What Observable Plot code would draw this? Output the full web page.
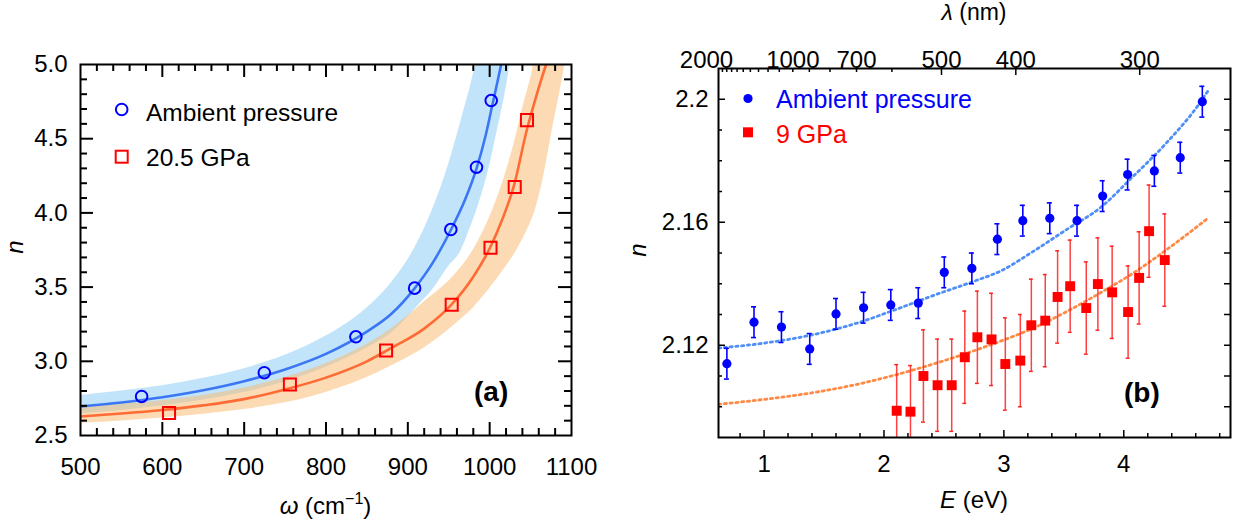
<!DOCTYPE html>
<html><head><meta charset="utf-8">
<script src="https://cdn.jsdelivr.net/npm/d3@7"></script>
<script src="https://cdn.jsdelivr.net/npm/@observablehq/plot@0.6"></script>
<style>
html,body{margin:0;padding:0;background:#fff;}
body{width:1235px;height:529px;overflow:hidden;position:relative;font-family:"Liberation Sans",Arial,Helvetica,sans-serif;}
#pa{position:absolute;left:0;top:0;}
#pb{position:absolute;left:615px;top:0;}
</style></head>
<body><div id="pa"></div><div id="pb"></div>
<script>
const FONT = "'Liberation Sans', Arial, Helvetica, sans-serif";
const HC = 1239.84; // eV·nm, for the wavelength axis

// ================= Panel (a) data =================
// measured points
const ambW = [574.7, 724.6, 836.5, 908.3, 952.5, 983.9, 1001.9];
const ambN = [2.763, 2.923, 3.165, 3.493, 3.888, 4.308, 4.757];
const hpW  = [608.2, 755.9, 873.4, 953.6, 1001.0, 1030.6, 1045.6];
const hpN  = [2.651, 2.844, 3.073, 3.381, 3.765, 4.174, 4.625];
// fitted curves
const ambFitW = [500, 550, 600, 650, 700, 750, 800, 850, 880, 908, 930, 953, 970, 984, 995, 1003, 1009, 1014];
const ambFitN = [2.695, 2.722, 2.758, 2.805, 2.866, 2.945, 3.05, 3.2, 3.32, 3.49, 3.66, 3.89, 4.09, 4.30, 4.52, 4.72, 4.87, 5.0];
const hpFitW = [500, 550, 600, 650, 700, 750, 800, 850, 880, 920, 953, 980, 1000, 1015, 1030, 1045, 1055, 1062, 1069];
const hpFitN = [2.628, 2.648, 2.672, 2.703, 2.745, 2.81, 2.89, 3.0, 3.09, 3.22, 3.38, 3.57, 3.76, 3.95, 4.19, 4.55, 4.75, 4.88, 5.0];
// uncertainty bands
const ambBandW  = [500, 550, 600, 650, 700, 750, 800, 850, 880, 910, 930, 950, 965, 975, 985, 1000, 1010, 1018, 1025];
const ambBandLo = [2.646, 2.668, 2.70, 2.74, 2.79, 2.86, 2.96, 3.09, 3.19, 3.36, 3.48, 3.64, 3.745, 3.88, 4.03, 4.32, 4.57, 4.78, 5.0];
const ambBandHi = [2.77, 2.80, 2.835, 2.885, 2.95, 3.04, 3.17, 3.36, 3.53, 3.78, 4.02, 4.33, 4.62, 4.82, 5.0, 5.0, 5.0, 5.0, 5.0];
const hpBandW  = [500, 550, 600, 650, 700, 750, 800, 850, 880, 920, 960, 980, 1000, 1015, 1030, 1042, 1052, 1054, 1065, 1078, 1086, 1092];
const hpBandLo = [2.583, 2.598, 2.618, 2.643, 2.675, 2.72, 2.79, 2.89, 2.97, 3.09, 3.26, 3.36, 3.49, 3.60, 3.72, 3.84, 3.96, 3.99, 4.22, 4.60, 4.82, 5.0];
const hpBandHi = [2.687, 2.71, 2.735, 2.77, 2.82, 2.89, 2.985, 3.115, 3.22, 3.40, 3.60, 3.75, 3.97, 4.19, 4.47, 4.74, 4.95, 5.0, 5.0, 5.0, 5.0, 5.0];
// axis ticks
const aXTicks = [500, 600, 700, 800, 900, 1000, 1100];
const aYTicks = [2.5, 3.0, 3.5, 4.0, 4.5, 5.0];

// ================= Panel (b) data =================
const ambE  = [0.69, 0.916, 1.145, 1.381, 1.600, 1.830, 2.057, 2.286, 2.503, 2.733, 2.946, 3.158, 3.383, 3.610, 3.824, 4.032, 4.255, 4.471, 4.655];
const ambNb = [2.1140, 2.1275, 2.1259, 2.1188, 2.1302, 2.1322, 2.1331, 2.1337, 2.1437, 2.1450, 2.1545, 2.1605, 2.1613, 2.1605, 2.1685, 2.1755, 2.1767, 2.1810, 2.1992];
const ambErr = [0.005, 0.005, 0.005, 0.005, 0.005, 0.005, 0.005, 0.005, 0.005, 0.005, 0.005, 0.005, 0.005, 0.005, 0.005, 0.005, 0.005, 0.005, 0.005];
const hpE  = [2.106, 2.221, 2.329, 2.447, 2.565, 2.674, 2.779, 2.897, 3.012, 3.137, 3.229, 3.345, 3.448, 3.553, 3.687, 3.784, 3.903, 4.036, 4.128, 4.211, 4.342];
const hpNb = [2.0987, 2.0984, 2.1100, 2.1070, 2.1070, 2.1161, 2.1226, 2.1219, 2.1139, 2.1150, 2.1265, 2.1280, 2.1357, 2.1392, 2.1321, 2.1399, 2.1372, 2.1308, 2.1419, 2.1571, 2.1477];
const hpErr = [0.015, 0.015, 0.015, 0.015, 0.015, 0.015, 0.015, 0.015, 0.015, 0.015, 0.015, 0.015, 0.015, 0.015, 0.015, 0.015, 0.015, 0.015, 0.015, 0.015, 0.015];
const fitE    = [0.62, 1.0, 1.472, 1.8, 2.09, 2.42, 2.75, 2.97, 3.248, 3.526, 3.803, 4.08, 4.358, 4.636, 4.705];
const ambFitNb = [2.1191, 2.1207, 2.1240, 2.1275, 2.1315, 2.1363, 2.1408, 2.1441, 2.1506, 2.1577, 2.1647, 2.1750, 2.1859, 2.1989, 2.2029];
const hpFitNb  = [2.1008, 2.1024, 2.1050, 2.1075, 2.1103, 2.1140, 2.1182, 2.1213, 2.1256, 2.1310, 2.1370, 2.1435, 2.1511, 2.1593, 2.1614];
const bXTicks = [1, 2, 3, 4];
const bYTicks = [2.12, 2.16, 2.2];
const lamLabels = [2000, 1000, 700, 500, 400, 300];
const lamMinor = [1900, 1800, 1700, 1600, 1500, 1400, 1300, 1200, 1100, 1000, 900, 800, 700, 600];
const lamMajor = [500, 400, 300];

// ================= tables =================
const ambPts = ambW.map((w, i) => ({w, n: ambN[i]}));
const hpPts = hpW.map((w, i) => ({w, n: hpN[i]}));
const ambFit = ambFitW.map((w, i) => ({w, n: ambFitN[i]}));
const hpFit = hpFitW.map((w, i) => ({w, n: hpFitN[i]}));
const ambBand = ambBandW.map((w, i) => ({w, lo: ambBandLo[i], hi: ambBandHi[i]}));
const hpBand = hpBandW.map((w, i) => ({w, lo: hpBandLo[i], hi: hpBandHi[i]}));
const ambB = ambE.map((e, i) => ({e, n: ambNb[i], err: ambErr[i]}));
const hpB = hpE.map((e, i) => ({e, n: hpNb[i], err: hpErr[i]}));
const ambFitB = fitE.map((e, i) => ({e, n: ambFitNb[i]}));
const hpFitB = fitE.map((e, i) => ({e, n: hpFitNb[i]}));

// ================= Panel (a) =================
const A = {w: 615, h: 529, ml: 80, mr: 44, mt: 64, mb: 94};
const AW = A.w - A.ml - A.mr, AH = A.h - A.mt - A.mb;
const aXMinor = d3.range(520, 1100, 20).filter(v => v % 100 !== 0);
const aYMinor = d3.range(26, 50).filter(v => v % 5 !== 0).map(v => v / 10);
const aXIn = aXTicks.slice(1, -1), aYIn = aYTicks.slice(1, -1);
const tk = {stroke: "black", strokeWidth: 2};

const plotA = Plot.plot({
  width: A.w, height: A.h,
  marginLeft: A.ml, marginRight: A.mr, marginTop: A.mt, marginBottom: A.mb,
  style: {fontFamily: FONT, fontSize: "24px", background: "none", color: "black", overflow: "visible"},
  x: {domain: [500, 1100], ticks: aXTicks, tickSize: 0, tickPadding: 22, label: null, tickFormat: d => String(d)},
  y: {domain: [2.5, 5.0], ticks: aYTicks, tickSize: 0, tickPadding: 13, label: null, tickFormat: d => d.toFixed(1)},
  marks: [
    Plot.areaY(ambBand, {x: "w", y1: "lo", y2: "hi", fill: "#8fcdf5", fillOpacity: 0.55, curve: "monotone-x", clip: true}),
    Plot.areaY(hpBand, {x: "w", y1: "lo", y2: "hi", fill: "#f9b86a", fillOpacity: 0.5, curve: "monotone-x", clip: true}),
    Plot.line(ambFit, {x: "w", y: "n", stroke: "#3b76f5", strokeWidth: 2.6, curve: "monotone-x", clip: true}),
    Plot.line(hpFit, {x: "w", y: "n", stroke: "#ff6b35", strokeWidth: 2.6, curve: "monotone-x", clip: true}),
    Plot.dot(ambPts, {x: "w", y: "n", r: 5.8, stroke: "#0000ff", strokeWidth: 2, fill: "none"}),
    Plot.dot(hpPts, {x: "w", y: "n", symbol: "square", r: 6.8, stroke: "#ff0000", strokeWidth: 2, fill: "none"}),
    // inward ticks on all four sides
    Plot.tickX(aXIn, {x: d => d, insetTop: AH - 13, ...tk}),
    Plot.tickX(aXIn, {x: d => d, insetBottom: AH - 13, ...tk}),
    Plot.tickX(aXMinor, {x: d => d, insetTop: AH - 7, ...tk}),
    Plot.tickX(aXMinor, {x: d => d, insetBottom: AH - 7, ...tk}),
    Plot.tickY(aYIn, {y: d => d, insetRight: AW - 13, ...tk}),
    Plot.tickY(aYIn, {y: d => d, insetLeft: AW - 13, ...tk}),
    Plot.tickY(aYMinor, {y: d => d, insetRight: AW - 7, ...tk}),
    Plot.tickY(aYMinor, {y: d => d, insetLeft: AW - 7, ...tk}),
    Plot.frame({stroke: "black", strokeWidth: 2})
  ]
});
document.getElementById("pa").appendChild(plotA);

// ================= Panel (b) =================
const B = {w: 620, h: 529, ml: 103, mr: 5, mt: 68, mb: 92};
const BW = B.w - B.ml - B.mr, BH = B.h - B.mt - B.mb;
const bXMinor = d3.range(4, 25).filter(v => v % 5 !== 0).map(v => v / 5);
const bYMinor = d3.range(210, 221).filter(v => ![212, 216, 220].includes(v)).map(v => v / 100);
const bYAll = d3.range(210, 221).map(v => v / 100);
const tb = {stroke: "black", strokeWidth: 1.5};

const plotB = Plot.plot({
  width: B.w, height: B.h,
  marginLeft: B.ml, marginRight: B.mr, marginTop: B.mt, marginBottom: B.mb,
  style: {fontFamily: FONT, fontSize: "24px", background: "none", color: "black", overflow: "visible"},
  x: {domain: [0.62, 4.89], ticks: bXTicks, tickSize: 0, tickPadding: 17, label: null, tickFormat: d => String(d)},
  y: {domain: [2.09, 2.21], ticks: bYTicks, tickSize: 0, tickPadding: 10, label: null, tickFormat: d => String(+d.toFixed(2))},
  marks: [
    Plot.line(ambFitB, {x: "e", y: "n", stroke: "#4f8ff7", strokeWidth: 2.8, strokeDasharray: "2.2,3.6", curve: "monotone-x", clip: true}),
    Plot.line(hpFitB, {x: "e", y: "n", stroke: "#ff8a45", strokeWidth: 2.8, strokeDasharray: "2.2,3.6", curve: "monotone-x", clip: true}),
    // 9 GPa error bars and points
    Plot.ruleX(hpB, {x: "e", y1: d => d.n - d.err, y2: d => d.n + d.err, stroke: "#ff2020", strokeOpacity: 0.85, strokeWidth: 1.5, clip: true}),
    Plot.ruleY(hpB, {y: d => d.n + d.err, x1: d => d.e - 0.016, x2: d => d.e + 0.016, stroke: "#ff2020", strokeWidth: 1.5, clip: true}),
    Plot.ruleY(hpB, {y: d => d.n - d.err, x1: d => d.e - 0.016, x2: d => d.e + 0.016, stroke: "#ff2020", strokeWidth: 1.5, clip: true}),
    Plot.dot(hpB, {x: "e", y: "n", symbol: "square", r: 5.6, fill: "#ff0000", stroke: "none"}),
    // ambient error bars and points
    Plot.ruleX(ambB, {x: "e", y1: d => d.n - d.err, y2: d => d.n + d.err, stroke: "#0000ff", strokeWidth: 1.6}),
    Plot.ruleY(ambB, {y: d => d.n + d.err, x1: d => d.e - 0.021, x2: d => d.e + 0.021, stroke: "#0000ff", strokeWidth: 1.6}),
    Plot.ruleY(ambB, {y: d => d.n - d.err, x1: d => d.e - 0.021, x2: d => d.e + 0.021, stroke: "#0000ff", strokeWidth: 1.6}),
    Plot.dot(ambB, {x: "e", y: "n", r: 4.6, fill: "#0000ff", stroke: "none"}),
    // ticks
    Plot.tickX(bXTicks, {x: d => d, insetTop: BH - 7, ...tb}),
    Plot.tickX(bXMinor, {x: d => d, insetTop: BH - 4, ...tb}),
    Plot.tickX(lamMajor, {x: d => HC / d, insetBottom: BH - 7, ...tb}),
    Plot.tickX(lamMinor, {x: d => HC / d, insetBottom: BH - 4, ...tb}),
    Plot.tickY(bYTicks, {y: d => d, insetRight: BW - 7, ...tb}),
    Plot.tickY(bYMinor, {y: d => d, insetRight: BW - 4, ...tb}),
    Plot.tickY(bYAll, {y: d => d, insetLeft: BW - 6, ...tb}),
    // top wavelength labels
    Plot.text(lamLabels.slice(1), {x: d => HC / d, text: d => String(d), frameAnchor: "top", dy: -18, fontSize: 24}),
    Plot.text(lamLabels.slice(0, 1), {x: d => HC / d, text: d => String(d), frameAnchor: "top", dy: -18, dx: -12, fontSize: 24}),
    Plot.frame({stroke: "black", strokeWidth: 2})
  ]
});
document.getElementById("pb").appendChild(plotB);

// ================= annotations (legends, titles, panel labels) =================
const sa = d3.select(plotA);
sa.append("circle").attr("cx", 121.7).attr("cy", 109.5).attr("r", 5.8)
  .attr("fill", "none").attr("stroke", "#0000ff").attr("stroke-width", 2);
sa.append("text").attr("x", 146).attr("y", 121.3).attr("text-anchor", "start").attr("font-size", 24.5).attr("fill", "black").text("Ambient pressure");
sa.append("rect").attr("x", 115.7).attr("y", 150.7).attr("width", 12).attr("height", 12)
  .attr("fill", "none").attr("stroke", "#ff0000").attr("stroke-width", 2);
sa.append("text").attr("x", 146).attr("y", 165.5).attr("text-anchor", "start").attr("font-size", 24.5).attr("fill", "black").text("20.5 GPa");
sa.append("text").attr("x", 474).attr("y", 401).attr("text-anchor", "start").attr("font-size", 28).attr("font-weight", "bold").text("(a)");
sa.append("text").attr("transform", "translate(23,247) rotate(-90)").attr("text-anchor", "middle")
  .attr("font-size", 24).attr("font-style", "italic").text("n");
const xtA = sa.append("text").attr("x", 325.5).attr("y", 514).attr("text-anchor", "middle").attr("font-size", 24);
xtA.append("tspan").attr("font-style", "italic").text("ω");
xtA.append("tspan").text(" (cm");
xtA.append("tspan").attr("font-size", 16).attr("dy", -10).text("−1");
xtA.append("tspan").attr("dy", 10).text(")");

const sb = d3.select(plotB);
sb.append("circle").attr("cx", 133).attr("cy", 98.5).attr("r", 4.6).attr("fill", "#0000ff");
sb.append("text").attr("x", 161).attr("y", 108).attr("text-anchor", "start").attr("font-size", 25).attr("fill", "#0000ff").text("Ambient pressure");
sb.append("rect").attr("x", 128).attr("y", 127.3).attr("width", 10).attr("height", 10).attr("fill", "#ff0000");
sb.append("text").attr("x", 161).attr("y", 143).attr("text-anchor", "start").attr("font-size", 25).attr("fill", "#ff0000").text("9 GPa");
sb.append("text").attr("x", 509).attr("y", 402).attr("text-anchor", "start").attr("font-size", 28).attr("font-weight", "bold").text("(b)");
sb.append("text").attr("transform", "translate(31,250) rotate(-90)").attr("text-anchor", "middle")
  .attr("font-size", 24).attr("font-style", "italic").text("n");
const xtB = sb.append("text").attr("x", 359).attr("y", 508).attr("text-anchor", "middle").attr("font-size", 24);
xtB.append("tspan").attr("font-style", "italic").text("E");
xtB.append("tspan").text(" (eV)");
const ttB = sb.append("text").attr("x", 359).attr("y", 20).attr("text-anchor", "middle").attr("font-size", 23);
ttB.append("tspan").attr("font-style", "italic").text("λ");
ttB.append("tspan").text(" (nm)");
</script>
</body></html>
